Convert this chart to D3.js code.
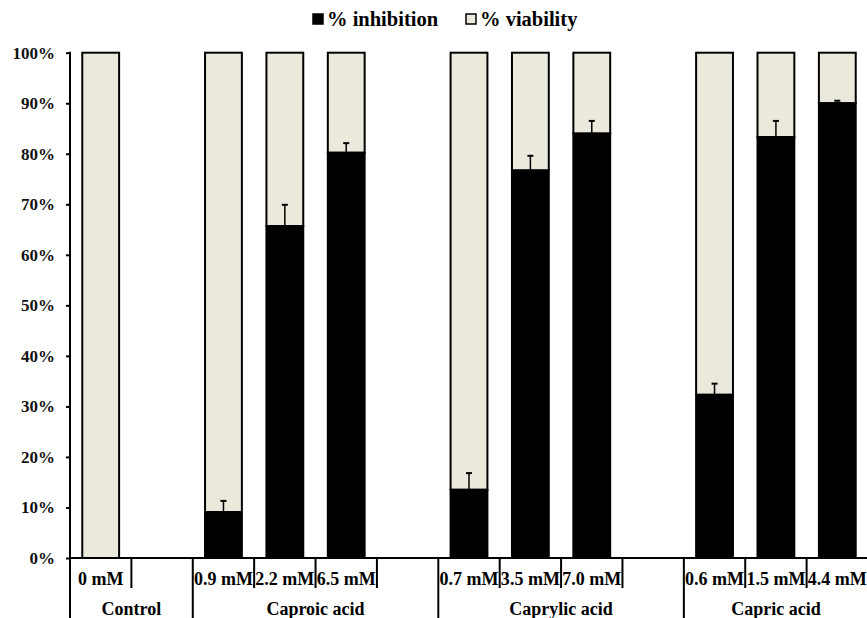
<!DOCTYPE html>
<html><head><meta charset="utf-8">
<script src="https://cdn.jsdelivr.net/npm/d3@7"></script>
<style>body{margin:0;background:#fff}svg{display:block}</style>
</head><body><svg id="c" width="867" height="618"></svg>
<script>
const categories = ["0 mM","","0.9 mM","2.2 mM","6.5 mM","","0.7 mM","3.5 mM","7.0 mM","","0.6 mM","1.5 mM","4.4 mM"];
const groupNames = ["Control","Caproic acid","Caprylic acid","Capric acid"];
const groupOf = [0,0,1,1,1,1,2,2,2,2,3,3,3];
const inhibition = [0,null,9.1,65.7,80.2,null,13.5,76.7,84.0,null,32.3,83.3,90.0];
const viability = [100,null,90.9,34.3,19.8,null,86.5,23.3,16.0,null,67.7,16.7,10.0];
const errors = [0,null,2.2,4.2,1.9,null,3.3,2.9,2.5,null,2.2,3.2,0.5];
const yTicks = [0,10,20,30,40,50,60,70,80,90,100];
const seriesNames = ["% inhibition","% viability"];

(function(){
const FONT = "'Liberation Serif','Times New Roman',serif";
const svg = d3.select("#c");
const mLeft = 70, mRight = 868, mTop = 52.7, mBottom = 558;

const x = d3.scaleBand().domain(d3.range(categories.length)).range([mLeft, mRight]).paddingInner(0.4).paddingOuter(0.2);
const y = d3.scaleLinear().domain([0,100]).range([mBottom, mTop]);
const step = x.step();
const edge = i => x(i) - x.paddingOuter() * step;

// bars
const idx = d3.range(categories.length).filter(i => inhibition[i] !== null);
const g = svg.append("g");
g.selectAll("rect.v").data(idx).join("rect")
  .attr("x", i => x(i)).attr("width", x.bandwidth())
  .attr("y", i => y(inhibition[i] + viability[i])).attr("height", i => y(inhibition[i]) - y(inhibition[i] + viability[i]))
  .attr("fill", "#EBE9DB").attr("stroke", "#000").attr("stroke-width", 2);
g.selectAll("rect.i").data(idx.filter(i => inhibition[i] > 0)).join("rect")
  .attr("x", i => x(i)).attr("width", x.bandwidth())
  .attr("y", i => y(inhibition[i])).attr("height", i => y(0) - y(inhibition[i]))
  .attr("fill", "#000").attr("stroke", "#000").attr("stroke-width", 2);
// error bars
const eb = idx.filter(i => errors[i] > 0);
g.selectAll("line.e").data(eb).join("line")
  .attr("x1", i => x(i) + x.bandwidth()/2).attr("x2", i => x(i) + x.bandwidth()/2)
  .attr("y1", i => y(inhibition[i])).attr("y2", i => y(inhibition[i] + errors[i]))
  .attr("stroke", "#000").attr("stroke-width", 1.5);
g.selectAll("line.c").data(eb).join("line")
  .attr("x1", i => x(i) + x.bandwidth()/2 - 3).attr("x2", i => x(i) + x.bandwidth()/2 + 3)
  .attr("y1", i => y(inhibition[i] + errors[i])).attr("y2", i => y(inhibition[i] + errors[i]))
  .attr("stroke", "#000").attr("stroke-width", 2);

// y axis
const ya = svg.append("g").attr("transform", `translate(${mLeft},0)`)
  .call(d3.axisLeft(y).tickValues(yTicks).tickFormat(d => d + "%").tickSize(4).tickSizeOuter(0).tickPadding(11));
ya.select(".domain").remove();
ya.selectAll("line").attr("stroke", "#000").attr("stroke-width", 2);
ya.selectAll("text").attr("font-family", FONT).attr("font-weight", "bold").attr("font-size", 17).attr("fill", "#111");
svg.append("line").attr("x1", mLeft).attr("x2", mLeft).attr("y1", mTop - 1).attr("y2", 618).attr("stroke", "#000").attr("stroke-width", 2);
svg.append("line").attr("x1", mLeft).attr("x2", mRight).attr("y1", mBottom).attr("y2", mBottom).attr("stroke", "#000").attr("stroke-width", 2);

// category separators
for (let i = 1; i < categories.length; i++) {
  const isGroup = groupOf[i] !== groupOf[i-1];
  svg.append("line").attr("x1", edge(i)).attr("x2", edge(i))
    .attr("y1", mBottom).attr("y2", isGroup ? 618 : 588)
    .attr("stroke", "#000").attr("stroke-width", 2);
}
// category labels
svg.append("g").selectAll("text").data(d3.range(categories.length)).join("text")
  .attr("x", i => x(i) + x.bandwidth()/2).attr("y", 585)
  .attr("text-anchor", "middle").attr("font-family", FONT).attr("font-weight", "bold").attr("font-size", 18)
  .attr("textLength", i => categories[i].length > 4 ? 59 : null)
  .attr("lengthAdjust", "spacingAndGlyphs")
  .text(i => categories[i]);
// group labels
svg.append("g").selectAll("text").data(groupNames).join("text")
  .attr("x", (d, k) => {
    const members = d3.range(categories.length).filter(i => groupOf[i] === k);
    return (edge(members[0]) + edge(members[members.length-1]) + step) / 2;
  })
  .attr("y", 615).attr("text-anchor", "middle")
  .attr("font-family", FONT).attr("font-weight", "bold").attr("font-size", 18)
  .text(d => d);

// legend
const leg = svg.append("g");
const lx = [313, 466];
const lfill = ["#000", "#EBE9DB"];
seriesNames.forEach((s, k) => {
  leg.append("rect").attr("x", lx[k]).attr("y", 14).attr("width", 10).attr("height", 10)
    .attr("fill", lfill[k]).attr("stroke", "#000").attr("stroke-width", 1.5);
  leg.append("text").attr("x", lx[k] + 14).attr("y", 26)
    .attr("font-family", FONT).attr("font-weight", "bold").attr("font-size", 20.5)
    .text(s);
});
})();
</script></body></html>
